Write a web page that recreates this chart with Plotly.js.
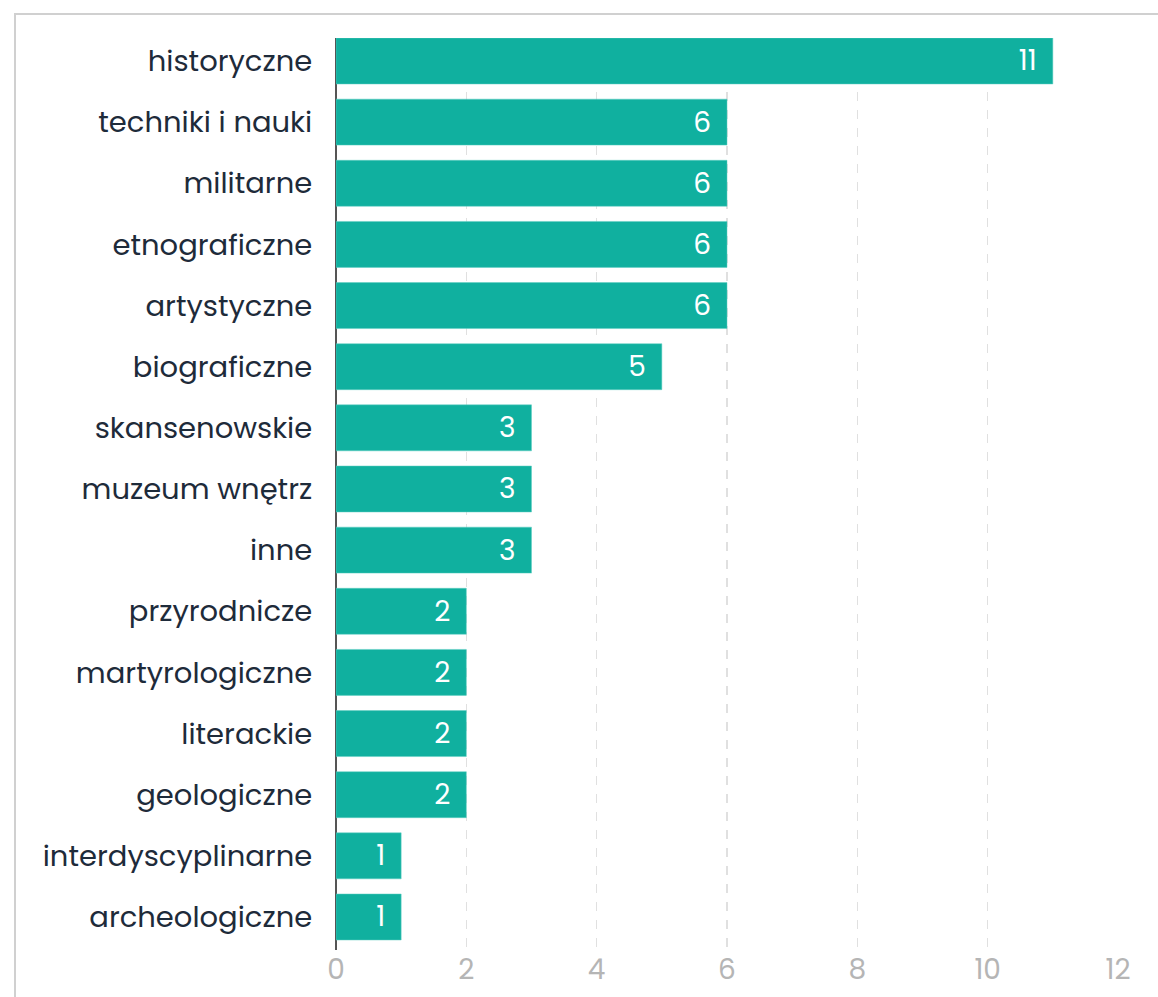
<!DOCTYPE html>
<html>
<head>
<meta charset="utf-8">
<script src="https://cdn.plot.ly/plotly-3.0.1.min.js"></script>
<style>
  html, body { margin: 0; padding: 0; background: #fff; }
  #frame { position: absolute; left: 14px; top: 13px; width: 1144px; height: 984px;
           border-left: 2px solid #d0d0d0; border-top: 2px solid #d0d0d0; }
  #chart { position: absolute; left: 0; top: 0; width: 1158px; height: 997px; }
</style>
</head>
<body>
<div id="frame"></div>
<div id="chart"></div>
<script>
const categories = [
  "historyczne", "techniki i nauki", "militarne", "etnograficzne", "artystyczne",
  "biograficzne", "skansenowskie", "muzeum wnętrz", "inne", "przyrodnicze",
  "martyrologiczne", "literackie", "geologiczne", "interdyscyplinarne", "archeologiczne"
];
const values = [11, 6, 6, 6, 6, 5, 3, 3, 3, 2, 2, 2, 2, 1, 1];
const xTicks = [0, 2, 4, 6, 8, 10, 12];

const FONT = "Poppins, Inter, 'Noto Sans', sans-serif";

const trace = {
  type: "bar",
  orientation: "h",
  y: categories,
  x: values,
  text: values.map(v => String(v) + "\u00a0\u2009"),
  textposition: "inside",
  insidetextanchor: "end",
  textangle: 0,
  constraintext: "none",
  textfont: { family: FONT, size: 28, color: "#ffffff" },
  marker: { color: "#10b09f", line: { color: "#5fcfc2", width: 0.5 } },
  cliponaxis: false,
  hoverinfo: "none"
};

const layout = {
  width: 1158, height: 997,
  margin: { l: 336, r: 40, t: 38, b: 47, pad: 0 },
  paper_bgcolor: "rgba(0,0,0,0)",
  plot_bgcolor: "rgba(0,0,0,0)",
  bargap: 0.248,
  showlegend: false,
  font: { family: FONT },
  xaxis: {
    range: [0, 12],
    tickvals: xTicks,
    ticktext: xTicks.map(String),
    showgrid: true,
    gridcolor: "#e0e0e0",
    gridwidth: 1.5,
    griddash: "dash",
    zeroline: true,
    zerolinecolor: "#555555",
    zerolinewidth: 2,
    showline: false,
    ticks: "",
    tickfont: { family: FONT, size: 28, color: "#b5b5b5" },
    fixedrange: true
  },
  yaxis: {
    type: "category",
    categoryorder: "array",
    categoryarray: categories,
    range: [14.54, -0.376],
    showgrid: false,
    zeroline: false,
    showline: false,
    ticks: "outside",
    ticklen: 17,
    tickcolor: "rgba(0,0,0,0)",
    tickfont: { family: FONT, size: 29, color: "#1e2b3a" },
    fixedrange: true
  }
};

Plotly.newPlot("chart", [trace], layout, { staticPlot: true, displayModeBar: false });
</script>
</body>
</html>
